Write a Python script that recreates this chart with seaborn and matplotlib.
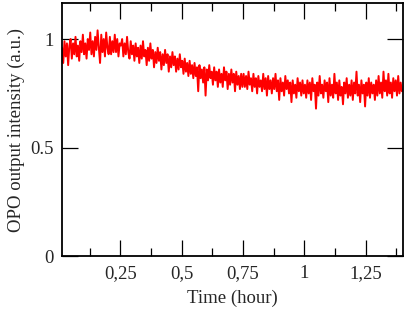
import numpy as np
import seaborn as sns
import matplotlib.pyplot as plt

seg_a = [0.96, 0.89, 0.99, 0.92, 0.98, 0.88, 0.97, 1.00, 0.91, 0.98,
         0.93, 1.01, 0.92, 0.97, 0.90, 0.99, 0.94, 1.02, 0.93, 0.98,
         0.91, 1.00, 0.95, 1.03, 0.93, 0.99, 0.92, 1.01, 0.95, 1.04,
         0.96, 0.89, 1.02, 0.94, 1.00, 0.92, 1.03, 0.96, 0.93, 1.01,
         0.93, 0.99, 0.94, 1.02, 0.94, 1.00, 0.92, 0.98]
seg_b = [0.97, 1.00, 0.92, 0.98, 0.93, 1.01, 0.94, 0.91, 0.99, 0.93,
         0.97, 0.90, 0.98, 0.92, 0.96, 0.89, 0.97, 0.91, 0.99, 0.92,
         0.95, 0.88, 0.96, 0.90, 0.98, 0.91, 0.95, 0.87, 0.94, 0.89,
         0.96, 0.90, 0.94, 0.86, 0.93, 0.88, 0.95, 0.89, 0.93, 0.85,
         0.92, 0.87, 0.94, 0.88, 0.92, 0.85, 0.91, 0.86, 0.93, 0.87]
seg_c = [0.90, 0.84, 0.91, 0.85, 0.89, 0.83, 0.90, 0.84, 0.88, 0.82,
         0.89, 0.83, 0.87, 0.76, 0.88, 0.82, 0.86, 0.80, 0.87, 0.74,
         0.86, 0.81, 0.88, 0.82, 0.85, 0.79, 0.87, 0.81, 0.85, 0.78,
         0.86, 0.80, 0.84, 0.78, 0.87, 0.81, 0.85, 0.77, 0.84, 0.79,
         0.86, 0.80, 0.84, 0.76, 0.85, 0.79, 0.83, 0.77, 0.84, 0.78]
seg_d = [0.84, 0.78, 0.83, 0.77, 0.85, 0.79, 0.82, 0.76, 0.84, 0.78,
         0.82, 0.75, 0.83, 0.78, 0.81, 0.76, 0.84, 0.77, 0.82, 0.74,
         0.83, 0.77, 0.81, 0.75, 0.82, 0.77, 0.84, 0.76, 0.81, 0.72,
         0.82, 0.76, 0.80, 0.74, 0.83, 0.77, 0.81, 0.75, 0.80, 0.71,
         0.81, 0.75, 0.79, 0.73, 0.82, 0.76, 0.80, 0.74, 0.81, 0.75]
seg_e = [0.79, 0.73, 0.81, 0.75, 0.80, 0.72, 0.82, 0.76, 0.79, 0.68,
         0.80, 0.74, 0.83, 0.75, 0.79, 0.73, 0.81, 0.76, 0.80, 0.71,
         0.82, 0.74, 0.79, 0.73, 0.84, 0.75, 0.80, 0.72, 0.81, 0.74,
         0.78, 0.70, 0.80, 0.75, 0.82, 0.73, 0.79, 0.74, 0.81, 0.72,
         0.80, 0.75, 0.85, 0.74, 0.79, 0.71, 0.81, 0.75, 0.79, 0.69,
         0.80, 0.74, 0.82, 0.73, 0.80, 0.75, 0.79, 0.72, 0.81, 0.74,
         0.83, 0.75, 0.80, 0.73, 0.85, 0.76, 0.81, 0.74, 0.84, 0.75,
         0.80, 0.73, 0.82, 0.76, 0.81, 0.74, 0.83, 0.75, 0.80, 0.76]
intensity = seg_a + seg_b + seg_c + seg_d + seg_e
time_h = np.linspace(0.0125, 1.3975, len(intensity))

x_ticks = [0.25, 0.5, 0.75, 1.0, 1.25]
x_labels = ['0,25', '0,5', '0,75', '1', '1,25']
x_minor = [0.125, 0.375, 0.625, 0.875, 1.125, 1.375]
y_ticks = [0, 0.5, 1]
y_labels = ['0', '0.5', '1']

sns.set_style('ticks')
plt.rcParams['font.family'] = ['Liberation Serif', 'DejaVu Serif']

fig = plt.figure(figsize=(4.04, 3.10), dpi=100)
ax = fig.add_axes([0.1535, 0.1726, 0.8428, 0.8193])
sns.lineplot(x=time_h, y=intensity, color='#ff0000', lw=1.4, ax=ax)

ax.set_xlim(0.0125, 1.40)
ax.set_ylim(0, 1.168)
ax.set_xticks(x_ticks)
ax.set_xticklabels(x_labels)
ax.set_xticks(x_minor, minor=True)
ax.set_yticks(y_ticks)
ax.set_yticklabels(y_labels)

ax.tick_params(which='both', direction='in', top=True, right=True,
               width=0.9, color='black', labelsize=13.5, pad=6)
ax.tick_params(which='major', length=11.5)
ax.tick_params(which='minor', length=5.8)
for s in ax.spines.values():
    s.set_linewidth(1.3)
    s.set_color('black')

ax.set_xlabel('Time (hour)', fontsize=13.5, labelpad=6)
ax.set_ylabel('OPO output intensity (a.u.)', fontsize=13.5, labelpad=4)

fig.savefig('out.png', dpi=100)
